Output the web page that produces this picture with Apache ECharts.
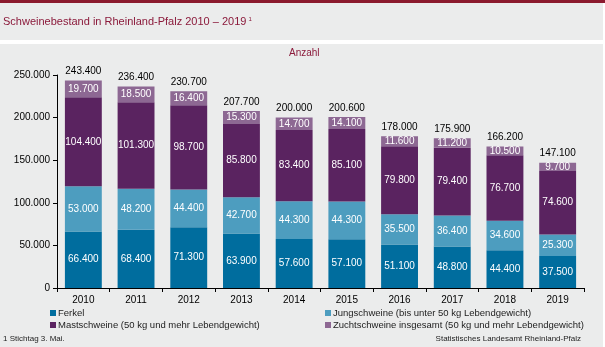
<!DOCTYPE html>
<html><head><meta charset="utf-8">
<script src="https://cdn.jsdelivr.net/npm/echarts@6/dist/echarts.min.js"></script>
<style>html,body{margin:0;padding:0;background:#fff}#c{width:605px;height:347px}</style>
</head><body><div id="c"></div>
<script>
const years = ['2010','2011','2012','2013','2014','2015','2016','2017','2018','2019'];
const ferkel = [66400,68400,71300,63900,57600,57100,51100,48800,44400,37500];
const jung = [53000,48200,44400,42700,44300,44300,35500,36400,34600,25300];
const mast = [104400,101300,98700,85800,83400,85100,79800,79400,76700,74600];
const zucht = [19700,18500,16400,15300,14700,14100,11600,11200,10500,9700];
const totals = [243400,236400,230700,207700,200000,200600,178000,175900,166200,147100];

const fmt = v => String(v).replace(/\B(?=(\d{3})+(?!\d))/g, '.');
const font = 'Liberation Sans, Arial, sans-serif';
const names = ['Ferkel','Jungschweine (bis unter 50 kg Lebendgewicht)','Mastschweine (50 kg und mehr Lebendgewicht)','Zuchtschweine insgesamt (50 kg und mehr Lebendgewicht)'];
const colors = ['#006d9e','#4d9dbf','#5a2360','#8d6893'];
const datas = [ferkel,jung,mast,zucht];

const series = datas.map((d,i)=>({
  name: names[i], type:'bar', stack:'s', barWidth:'70%', data:d,
  itemStyle:{color:colors[i]},
  label:{show:true, position:'inside', color:'#fff', fontSize:10, fontFamily:font, formatter:p=>fmt(p.value)}
}));
series.push({
  name:'total', type:'bar', stack:'s', barWidth:'70%', data: totals.map(()=>0),
  itemStyle:{color:'transparent'},
  label:{show:true, position:'top', color:'#000', fontSize:10, fontFamily:font, distance:4, formatter:p=>fmt(totals[p.dataIndex])}
});

const legendPos = [[50,308],[325,308],[50,320],[325,320]];
const legends = names.map((n,i)=>({
  data:[n], left:legendPos[i][0], top:legendPos[i][1], itemWidth:6, itemHeight:6, itemGap:2,
  icon:'rect', padding:0, selectedMode:false,
  textStyle:{fontSize:9.5, color:'#222', fontFamily:font, padding:[0,0,0,-3]}
}));

const chart = echarts.init(document.getElementById('c'), null, {renderer:'canvas'});
chart.setOption({
  animation:false,
  backgroundColor:'#ffffff',
  graphic:[
    {type:'rect', shape:{x:0,y:0,width:603,height:40}, style:{fill:'#ebecec'}, z:-10},
    {type:'rect', shape:{x:0,y:0,width:605,height:3}, style:{fill:'#8b1a2e'}, z:-9},
    {type:'rect', shape:{x:0,y:44,width:603,height:303}, style:{fill:'#ebecec'}, z:-10},
    {type:'text', left:3, top:16, style:{
      text:'{a|Schweinebestand in Rheinland-Pfalz 2010 – 2019}{s|1}',
      rich:{a:{fill:'#8b1a3b', font:'11px '+font}, s:{fill:'#8b1a3b', font:'6px '+font, verticalAlign:'top', padding:[0,0,0,2]}}}},
    {type:'text', left:289, top:48, style:{text:'Anzahl', fill:'#8b1a3b', font:'10px '+font}},
    {type:'text', left:3, top:335, style:{text:'1 Stichtag 3. Mai.', fill:'#222', font:'8px '+font}},
    {type:'text', right:24, top:335, style:{text:'Statistisches Landesamt Rheinland-Pfalz', fill:'#222', font:'8px '+font}}
  ],
  legend: legends,
  grid:{left:57, right:21, top:75, bottom:59},
  xAxis:{type:'category', data:years,
    axisLine:{lineStyle:{color:'#000', width:1}},
    axisTick:{show:true, length:4, lineStyle:{color:'#000'}},
    axisLabel:{color:'#000', fontSize:10, fontFamily:font, margin:7}},
  yAxis:{type:'value', min:0, max:250000, interval:50000,
    axisLine:{show:true, lineStyle:{color:'#000'}},
    axisTick:{show:true, length:4, lineStyle:{color:'#000'}},
    splitLine:{show:false},
    axisLabel:{color:'#000', fontSize:10, fontFamily:font, margin:7, formatter:v=>fmt(v)}},
  series: series
});
</script></body></html>
